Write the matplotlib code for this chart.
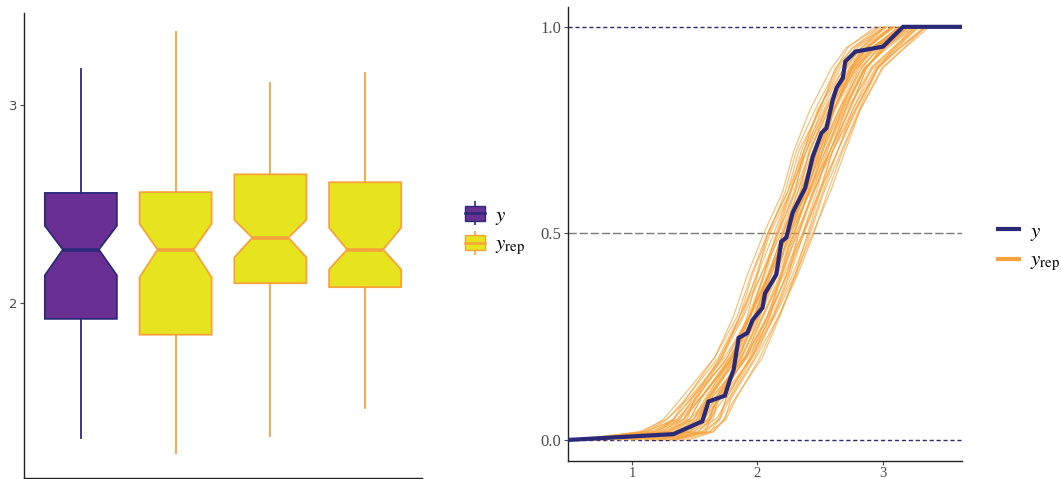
import matplotlib
matplotlib.use("Agg")
import matplotlib.pyplot as plt
from matplotlib.patches import Patch
from matplotlib.lines import Line2D
from matplotlib.legend_handler import HandlerTuple

plt.rcParams['mathtext.fontset'] = 'stix'

# ---------------- data: boxplot (left) ----------------
box_labels = ["y", "yrep1", "yrep2", "yrep3"]
box_whislo = [1.32, 1.24, 1.33, 1.47]
box_q1 = [1.92, 1.84, 2.10, 2.08]
box_med = [2.27, 2.27, 2.33, 2.27]
box_q3 = [2.556, 2.56, 2.65, 2.61]
box_whishi = [3.18, 3.37, 3.11, 3.16]
box_cilo = [2.14, 2.13, 2.23, 2.17]
box_cihi = [2.39, 2.40, 2.42, 2.38]

# ---------------- data: ECDF overlay (right) ----------------
y_ecdf_x = [0.49, 1.33, 1.56, 1.61, 1.74, 1.78, 1.81, 1.85, 1.92, 1.96, 2.04, 2.06,
            2.15, 2.19, 2.23, 2.28, 2.38, 2.44, 2.51, 2.55, 2.60, 2.63, 2.68, 2.70,
            2.78, 3.00, 3.04, 3.16, 3.63]
y_ecdf_p = [0.0, 0.014, 0.045, 0.093, 0.107, 0.145, 0.17, 0.247, 0.259, 0.29, 0.32, 0.355,
            0.40, 0.48, 0.49, 0.55, 0.61, 0.685, 0.743, 0.755, 0.823, 0.852, 0.876, 0.916,
            0.94, 0.952, 0.964, 1.0, 1.0]

yrep_probs = [0.0, 0.02, 0.05, 0.1, 0.2, 0.3, 0.4, 0.5, 0.6, 0.7, 0.8, 0.9, 0.95, 1.0]
yrep_quantiles = [
    [0.72, 1.09, 1.25, 1.39, 1.66, 1.81, 1.92, 2.05, 2.20, 2.29, 2.42, 2.59, 2.71, 2.97],
    [0.55, 1.06, 1.28, 1.43, 1.66, 1.84, 1.95, 2.08, 2.24, 2.37, 2.53, 2.71, 2.86, 3.10],
    [1.00, 1.18, 1.33, 1.43, 1.69, 1.86, 1.96, 2.09, 2.22, 2.31, 2.46, 2.63, 2.72, 2.94],
    [0.62, 1.12, 1.33, 1.47, 1.71, 1.86, 2.00, 2.13, 2.26, 2.35, 2.49, 2.66, 2.80, 3.03],
    [1.10, 1.25, 1.38, 1.48, 1.72, 1.89, 2.03, 2.16, 2.27, 2.37, 2.49, 2.64, 2.76, 2.98],
    [0.80, 1.15, 1.36, 1.50, 1.76, 1.94, 2.09, 2.23, 2.38, 2.52, 2.67, 2.85, 3.04, 3.26],
    [1.15, 1.28, 1.41, 1.51, 1.76, 1.93, 2.05, 2.16, 2.30, 2.42, 2.55, 2.70, 2.83, 3.07],
    [1.20, 1.46, 1.54, 1.59, 1.80, 1.94, 2.06, 2.17, 2.29, 2.39, 2.51, 2.69, 2.78, 3.02],
    [0.90, 1.22, 1.42, 1.54, 1.79, 1.94, 2.08, 2.21, 2.32, 2.42, 2.57, 2.74, 2.88, 3.08],
    [1.05, 1.34, 1.46, 1.55, 1.80, 1.97, 2.09, 2.20, 2.34, 2.46, 2.61, 2.76, 2.88, 3.09],
    [0.68, 1.31, 1.49, 1.58, 1.80, 1.98, 2.10, 2.23, 2.35, 2.45, 2.60, 2.78, 2.92, 3.15],
    [1.10, 1.37, 1.49, 1.60, 1.82, 1.97, 2.11, 2.24, 2.36, 2.48, 2.61, 2.76, 2.91, 3.13],
    [0.95, 1.40, 1.515, 1.60, 1.84, 1.99, 2.11, 2.24, 2.38, 2.48, 2.61, 2.78, 2.935, 3.16],
    [1.15, 1.34, 1.53, 1.61, 1.85, 2.00, 2.14, 2.25, 2.39, 2.495, 2.62, 2.79, 2.95, 3.15],
    [1.20, 1.43, 1.54, 1.62, 1.84, 2.01, 2.15, 2.26, 2.38, 2.51, 2.65, 2.80, 2.935, 3.17],
    [0.58, 1.18, 1.41, 1.54, 1.82, 2.00, 2.14, 2.27, 2.41, 2.54, 2.68, 2.86, 3.02, 3.21],
    [1.00, 1.40, 1.56, 1.66, 1.87, 2.02, 2.16, 2.29, 2.41, 2.52, 2.66, 2.83, 2.97, 3.17],
    [1.25, 1.46, 1.58, 1.66, 1.87, 2.04, 2.18, 2.29, 2.41, 2.54, 2.69, 2.86, 3.00, 3.19],
    [1.30, 1.62, 1.70, 1.75, 1.94, 2.08, 2.19, 2.30, 2.40, 2.495, 2.61, 2.75, 2.86, 3.08],
    [0.85, 1.43, 1.60, 1.69, 1.90, 2.05, 2.19, 2.32, 2.44, 2.55, 2.70, 2.86, 3.01, 3.20],
    [1.15, 1.49, 1.61, 1.68, 1.91, 2.08, 2.20, 2.31, 2.45, 2.58, 2.70, 2.85, 3.02, 3.24],
    [1.30, 1.53, 1.63, 1.70, 1.91, 2.09, 2.23, 2.33, 2.45, 2.58, 2.73, 2.87, 3.02, 3.24],
    [1.00, 1.46, 1.62, 1.73, 1.95, 2.10, 2.23, 2.36, 2.49, 2.60, 2.73, 2.90, 3.08, 3.26],
    [0.75, 1.28, 1.49, 1.63, 1.90, 2.08, 2.24, 2.37, 2.50, 2.64, 2.79, 2.96, 3.14, 3.34],
    [1.35, 1.59, 1.69, 1.75, 1.95, 2.13, 2.26, 2.37, 2.49, 2.64, 2.76, 2.91, 3.09, 3.28],
    [1.20, 1.56, 1.70, 1.78, 1.98, 2.13, 2.28, 2.41, 2.52, 2.64, 2.78, 2.95, 3.11, 3.29],
    [1.40, 1.65, 1.74, 1.79, 1.99, 2.17, 2.31, 2.42, 2.53, 2.67, 2.81, 2.96, 3.13, 3.33],
    [1.30, 1.62, 1.75, 1.83, 2.02, 2.17, 2.32, 2.45, 2.56, 2.68, 2.82, 2.99, 3.17, 3.34],
    [0.70, 1.28, 1.46, 1.55, 1.78, 1.95, 2.09, 2.20, 2.32, 2.44, 2.59, 2.74, 2.86, 3.07],
    [1.25, 1.53, 1.62, 1.68, 1.88, 2.02, 2.13, 2.23, 2.36, 2.495, 2.65, 2.83, 2.96, 3.145],
    [0.60, 1.09, 1.36, 1.52, 1.72, 1.86, 2.03, 2.19, 2.30, 2.37, 2.48, 2.69, 2.83, 3.01],
    [1.45, 1.65, 1.73, 1.82, 2.04, 2.18, 2.30, 2.44, 2.58, 2.70, 2.82, 3.00, 3.18, 3.37],
    [0.90, 1.37, 1.57, 1.70, 1.96, 2.10, 2.19, 2.27, 2.42, 2.58, 2.74, 2.87, 2.99, 3.21],
    [0.80, 1.22, 1.33, 1.47, 1.78, 1.98, 2.15, 2.25, 2.34, 2.41, 2.57, 2.77, 2.935, 3.12],
    [1.30, 1.56, 1.65, 1.68, 1.86, 1.98, 2.09, 2.23, 2.40, 2.58, 2.71, 2.92, 3.11, 3.28],
    [1.00, 1.31, 1.44, 1.50, 1.70, 1.88, 1.99, 2.10, 2.26, 2.39, 2.54, 2.73, 2.88, 3.06],
    [1.10, 1.49, 1.67, 1.77, 1.96, 2.14, 2.30, 2.40, 2.50, 2.60, 2.76, 2.94, 3.14, 3.35],
    [0.50, 1.12, 1.28, 1.45, 1.74, 1.94, 2.05, 2.15, 2.26, 2.39, 2.55, 2.75, 2.91, 3.145],
    [1.20, 1.43, 1.515, 1.63, 1.90, 2.04, 2.21, 2.36, 2.47, 2.56, 2.67, 2.81, 2.99, 3.21],
    [0.75, 1.25, 1.46, 1.61, 1.82, 1.94, 2.09, 2.25, 2.42, 2.52, 2.61, 2.75, 2.83, 3.03],
    [1.35, 1.59, 1.62, 1.66, 1.92, 2.12, 2.25, 2.33, 2.44, 2.60, 2.78, 2.96, 3.09, 3.26],
    [0.65, 1.18, 1.38, 1.54, 1.80, 1.92, 2.00, 2.08, 2.24, 2.33, 2.50, 2.62, 2.76, 3.01],
]

# ---------------- style ----------------
NAVY = "#2b2a78"
PURPLE = "#6a2f92"
YELLOW = "#e6e31f"
ORANGE = "#f7a23a"
GRAY_TXT = "#4d4d4d"

fig = plt.figure(figsize=(10.61, 4.79), dpi=100)

# ---------------- left panel ----------------
axL = fig.add_axes([24 / 1061, 1 - 478 / 479, (422 - 24) / 1061, (478 - 13) / 479])
stats = []
for i in range(len(box_labels)):
    stats.append(dict(label=box_labels[i], whislo=box_whislo[i], q1=box_q1[i],
                      med=box_med[i], q3=box_q3[i], whishi=box_whishi[i],
                      cilo=box_cilo[i], cihi=box_cihi[i], fliers=[]))
positions = [1, 2, 3, 4]
for i, st in enumerate(stats):
    is_y = (i == 0)
    fc = PURPLE if is_y else YELLOW
    ec = NAVY if is_y else ORANGE
    axL.bxp([st], positions=[positions[i]], widths=0.76, shownotches=True, patch_artist=True,
            showcaps=False, showfliers=False,
            boxprops=dict(facecolor=fc, edgecolor=ec, linewidth=1.3),
            whiskerprops=dict(color=ec, linewidth=1.3),
            medianprops=dict(color=ec, linewidth=2.6, solid_capstyle='butt'))
axL.set_xlim(0.4, 4.6)
axL.set_ylim(1.116, 3.465)
axL.set_xticks([])
axL.set_yticks([2, 3])
axL.set_yticklabels(["2", "3"])
axL.tick_params(axis='y', length=3, width=0.8, color=GRAY_TXT, labelcolor=GRAY_TXT,
                labelsize=9.5, pad=2)
for s in ["top", "right"]:
    axL.spines[s].set_visible(False)
for s in ["left", "bottom"]:
    axL.spines[s].set_color("#222222")
    axL.spines[s].set_linewidth(1.0)

hy = (Line2D([], [], color=NAVY, marker='|', markersize=17, markeredgewidth=1.2, linestyle='None'),
      Patch(facecolor=PURPLE, edgecolor=NAVY, linewidth=1.0),
      Line2D([], [], color=NAVY, linewidth=1.8))
hyrep = (Line2D([], [], color=ORANGE, marker='|', markersize=17, markeredgewidth=1.2, linestyle='None'),
         Patch(facecolor=YELLOW, edgecolor=ORANGE, linewidth=1.0),
         Line2D([], [], color=ORANGE, linewidth=1.8))
legL = fig.legend([hy, hyrep], [r"$y$", r"$y_{\mathrm{rep}}$"],
                  handler_map={tuple: HandlerTuple(ndivide=1, pad=0)},
                  loc="center left", bbox_to_anchor=(465 / 1061, 1 - 231 / 479),
                  frameon=False, fontsize=15, handlelength=0.96, handleheight=0.7,
                  handletextpad=0.5, labelspacing=0.35, borderaxespad=0, borderpad=0)

# ---------------- right panel ----------------
axR = fig.add_axes([568 / 1061, 1 - 461 / 479, (962 - 568) / 1061, (461 - 7) / 479])
axR.axhline(0.0, color=NAVY, linewidth=1.0, linestyle=(0, (3, 2)), zorder=1)
axR.axhline(1.0, color=NAVY, linewidth=1.0, linestyle=(0, (3, 2)), zorder=1)
axR.axhline(0.5, color="#7a7a7a", linewidth=1.0, linestyle=(0, (6, 2)), zorder=1)
for q in yrep_quantiles:
    axR.plot(q, yrep_probs, color=ORANGE, linewidth=0.85, alpha=0.7, zorder=2)
axR.plot(y_ecdf_x, y_ecdf_p, color=NAVY, linewidth=3.0, zorder=3,
         solid_joinstyle='miter')
axR.set_xlim(0.49, 3.63)
axR.set_ylim(-0.051, 1.048)
axR.set_xticks([1, 2, 3])
axR.set_xticklabels(["1", "2", "3"])
axR.set_yticks([0.0, 0.5, 1.0])
axR.set_yticklabels(["0.0", "0.5", "1.0"])
for lab in axR.get_xticklabels() + axR.get_yticklabels():
    lab.set_family("Liberation Serif")
axR.tick_params(axis='y', length=3, width=0.8, color=GRAY_TXT, labelcolor=GRAY_TXT,
                labelsize=12, pad=2)
axR.tick_params(axis='x', length=3, width=0.8, color=GRAY_TXT, labelcolor=GRAY_TXT,
                labelsize=10.5, pad=1)
for s in ["top", "right"]:
    axR.spines[s].set_visible(False)
for s in ["left", "bottom"]:
    axR.spines[s].set_color("#222222")
    axR.spines[s].set_linewidth(1.0)

hR1 = Line2D([], [], color=NAVY, linewidth=3.0)
hR2 = Line2D([], [], color=ORANGE, linewidth=3.0)
legR = fig.legend([hR1, hR2], [r"$y$", r"$y_{\mathrm{rep}}$"],
                  loc="center left", bbox_to_anchor=(998 / 1061, 1 - 247 / 479),
                  frameon=False, fontsize=15, handlelength=1.0,
                  handletextpad=0.55, labelspacing=0.35, borderaxespad=0, borderpad=0)

fig.savefig("out.png", dpi=100)
